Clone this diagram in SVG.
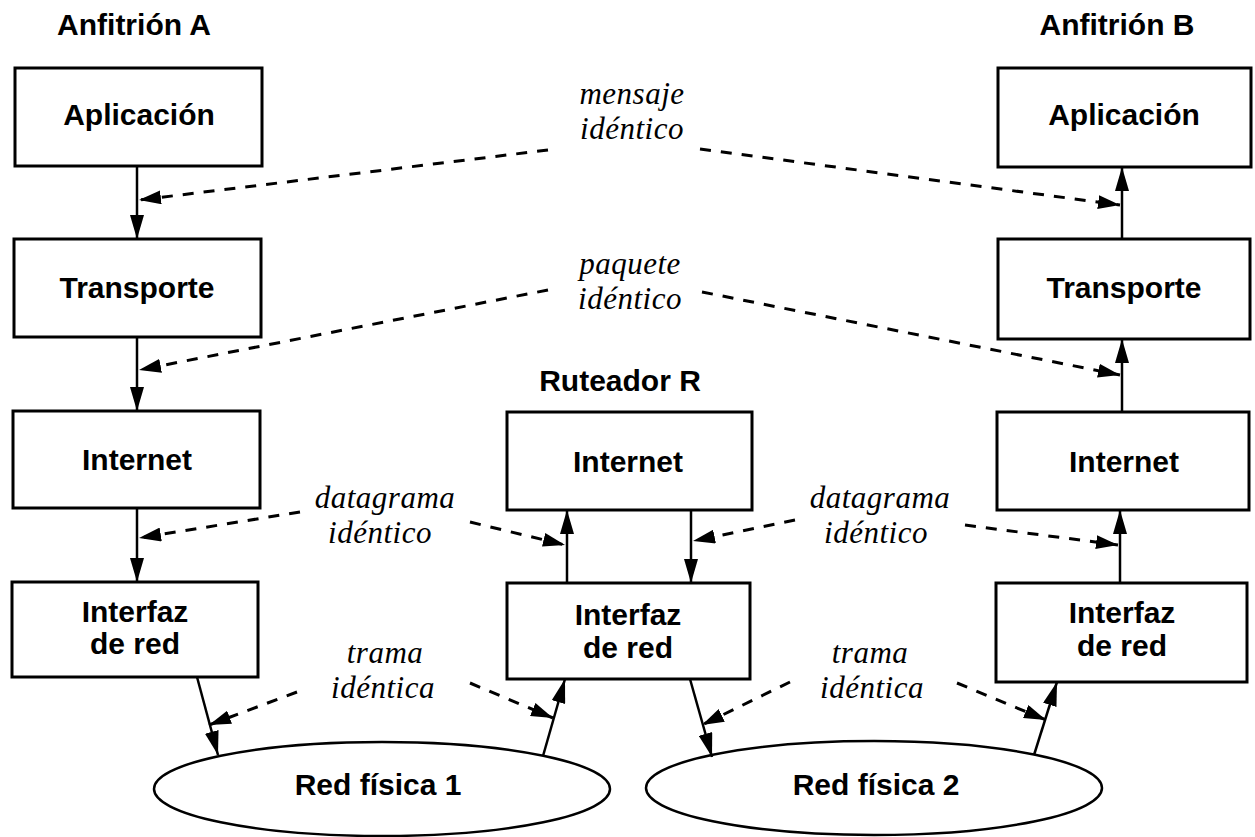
<svg xmlns="http://www.w3.org/2000/svg" width="1255" height="837" viewBox="0 0 1255 837">
<style>
.box{fill:#fff;stroke:#000;stroke-width:3}
.net{fill:#fff;stroke:#000;stroke-width:2.5}
.lbl{font-family:"Liberation Sans",Arial,sans-serif;font-weight:bold;font-size:30px;fill:#000;text-anchor:middle}
.it{font-family:"Liberation Serif","Times New Roman",serif;font-style:italic;font-size:31px;fill:#000;text-anchor:middle;letter-spacing:0.5px}
.solid{stroke:#000;stroke-width:2.5;fill:none;marker-end:url(#ah)}
.dash{stroke:#000;stroke-width:3;fill:none;stroke-dasharray:11 10;marker-end:url(#ahd)}
</style>
<defs>
<marker id="ah" viewBox="0 0 24 14" markerWidth="24" markerHeight="14" refX="24" refY="7" orient="auto" markerUnits="userSpaceOnUse">
<path d="M0,0 L24,7 L0,14 z" fill="#000"/>
</marker>
<marker id="ahd" viewBox="0 0 22 14" markerWidth="22" markerHeight="14" refX="22" refY="7" orient="auto" markerUnits="userSpaceOnUse">
<path d="M0,0 L22,7 L0,14 z" fill="#000"/>
</marker>
</defs>
<rect width="1255" height="837" fill="#fff"/>

<g id="titles">
<text class="lbl" x="134" y="35">Anfitrión A</text>
<text class="lbl" x="1117" y="35">Anfitrión B</text>
<text class="lbl" x="620" y="391">Ruteador R</text>
</g>

<g id="A-app"><rect class="box" x="15" y="68" width="247" height="98"/><text class="lbl" x="139" y="125">Aplicación</text></g>
<g id="A-trans"><rect class="box" x="14" y="239" width="247" height="98"/><text class="lbl" x="137" y="298">Transporte</text></g>
<g id="A-inet"><rect class="box" x="13" y="411" width="247" height="97"/><text class="lbl" x="137" y="470">Internet</text></g>
<g id="A-if"><rect class="box" x="12" y="582" width="246" height="95"/><text class="lbl" x="135" y="622">Interfaz</text><text class="lbl" x="135" y="654">de red</text></g>

<g id="R-inet"><rect class="box" x="507" y="412" width="245" height="98"/><text class="lbl" x="628" y="472">Internet</text></g>
<g id="R-if"><rect class="box" x="507" y="583" width="243" height="96"/><text class="lbl" x="628" y="625">Interfaz</text><text class="lbl" x="628" y="658">de red</text></g>

<g id="B-app"><rect class="box" x="998" y="68" width="253" height="99"/><text class="lbl" x="1124" y="125">Aplicación</text></g>
<g id="B-trans"><rect class="box" x="998" y="239" width="252" height="100"/><text class="lbl" x="1124" y="298">Transporte</text></g>
<g id="B-inet"><rect class="box" x="997" y="412" width="252" height="98"/><text class="lbl" x="1124" y="472">Internet</text></g>
<g id="B-if"><rect class="box" x="996" y="583" width="251" height="99"/><text class="lbl" x="1122" y="623">Interfaz</text><text class="lbl" x="1122" y="656">de red</text></g>

<g id="net1"><ellipse class="net" cx="382" cy="789" rx="228" ry="47"/><text class="lbl" x="378" y="795">Red física 1</text></g>
<g id="net2"><ellipse class="net" cx="874" cy="788" rx="228" ry="47"/><text class="lbl" x="876" y="795">Red física 2</text></g>

<g id="labels">
<text class="it" x="632" y="104">mensaje</text>
<text class="it" x="632" y="139">idéntico</text>
<text class="it" x="630" y="274">paquete</text>
<text class="it" x="630" y="309">idéntico</text>
<text class="it" x="385" y="508">datagrama</text>
<text class="it" x="380" y="543">idéntico</text>
<text class="it" x="880" y="508">datagrama</text>
<text class="it" x="876" y="543">idéntico</text>
<text class="it" x="385" y="663">trama</text>
<text class="it" x="383" y="698">idéntica</text>
<text class="it" x="870" y="663">trama</text>
<text class="it" x="872" y="698">idéntica</text>
</g>

<g id="connectors">
<line class="solid" x1="137" y1="166" x2="137" y2="239"/>
<line class="solid" x1="137" y1="337" x2="137" y2="411"/>
<line class="solid" x1="137" y1="508" x2="137" y2="582"/>
<line class="solid" x1="197" y1="677" x2="218" y2="755"/>
<line class="solid" x1="567" y1="583" x2="567" y2="510"/>
<line class="solid" x1="691" y1="510" x2="691" y2="583"/>
<line class="solid" x1="543" y1="756" x2="565" y2="679"/>
<line class="solid" x1="690" y1="679" x2="712" y2="757"/>
<line class="solid" x1="1122" y1="239" x2="1122" y2="167"/>
<line class="solid" x1="1122" y1="412" x2="1122" y2="339"/>
<line class="solid" x1="1120" y1="583" x2="1120" y2="510"/>
<line class="solid" x1="1034" y1="755" x2="1057" y2="682"/>

<line class="dash" x1="548" y1="150" x2="139" y2="200"/>
<line class="dash" x1="700" y1="149" x2="1120" y2="205"/>
<line class="dash" x1="548" y1="290" x2="139" y2="370"/>
<line class="dash" x1="702" y1="292" x2="1120" y2="375"/>
<line class="dash" x1="300" y1="512" x2="139" y2="538"/>
<line class="dash" x1="470" y1="522" x2="565" y2="545"/>
<line class="dash" x1="795" y1="520" x2="693" y2="541"/>
<line class="dash" x1="965" y1="525" x2="1118" y2="545"/>
<line class="dash" x1="297" y1="692" x2="209" y2="725"/>
<line class="dash" x1="470" y1="683" x2="553" y2="718"/>
<line class="dash" x1="790" y1="682" x2="702" y2="725"/>
<line class="dash" x1="957" y1="683" x2="1046" y2="720"/>
</g>
</svg>
